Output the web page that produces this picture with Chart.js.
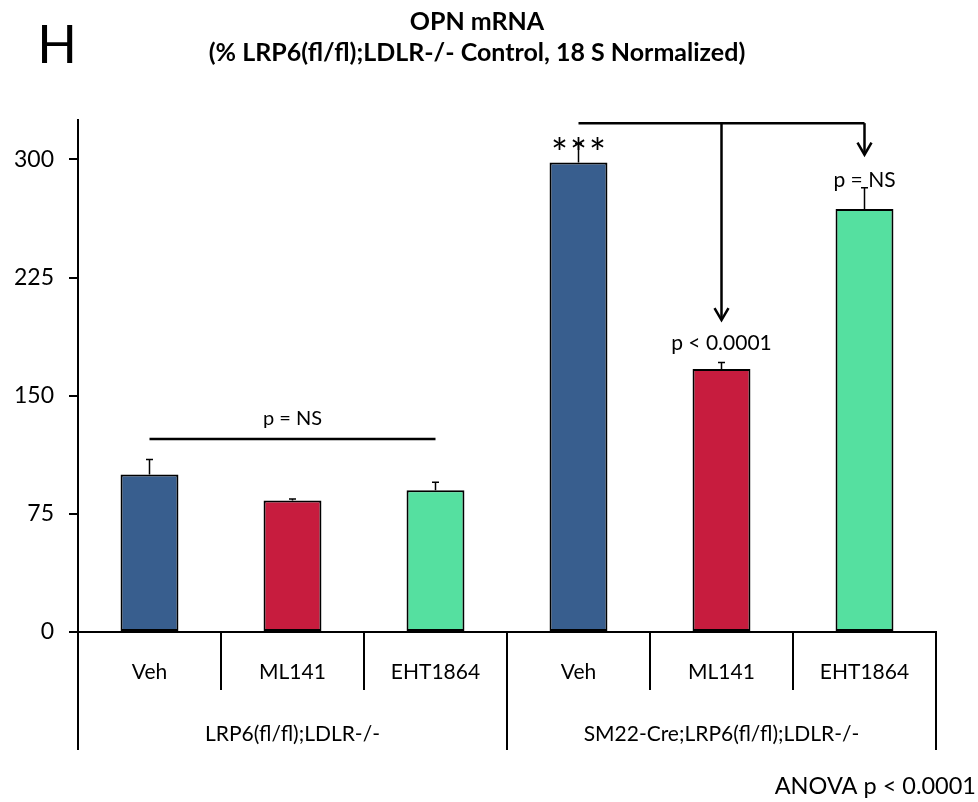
<!DOCTYPE html>
<html>
<head>
<meta charset="utf-8">
<script src="https://cdn.jsdelivr.net/npm/chart.js@4.4.1/dist/chart.umd.min.js"></script>
<style>
  html, body { margin: 0; padding: 0; background: #fff; }
  #wrap { width: 978px; height: 802px; position: relative; }
</style>
</head>
<body>
<div id="wrap"><canvas id="c" width="978" height="802"></canvas></div>
<script>
// OPN mRNA, % of LRP6(fl/fl);LDLR-/- control, 18S normalized
const treatments = ['Veh', 'ML141', 'EHT1864', 'Veh', 'ML141', 'EHT1864'];
const genotypes = ['LRP6(fl/fl);LDLR-/-', 'SM22-Cre;LRP6(fl/fl);LDLR-/-'];
const means = [100, 83.5, 90, 298, 167, 268.5];
const errUpper = [109.5, 84.5, 95, 310, 171, 282];
const barColors = ['#385e8e', '#c71c3e', '#55e0a0', '#385e8e', '#c71c3e', '#55e0a0'];
const yTicks = [0, 75, 150, 225, 300];

const FONT = 'Lato, "Open Sans", sans-serif';

const overlay = {
  id: 'overlay',
  afterDatasetsDraw(chart) {
    const ctx = chart.ctx;
    const y = chart.scales.y;
    const meta = chart.getDatasetMeta(0);
    ctx.save();
    ctx.strokeStyle = '#000';
    ctx.lineWidth = 1.5;
    // error bars (upper only)
    meta.data.forEach((bar, i) => {
      const top = y.getPixelForValue(errUpper[i]);
      const base = y.getPixelForValue(means[i]);
      ctx.beginPath();
      ctx.moveTo(bar.x, base);
      ctx.lineTo(bar.x, top);
      ctx.moveTo(bar.x - 3.5, top);
      ctx.lineTo(bar.x + 3.5, top);
      ctx.stroke();
    });
    ctx.restore();
  },
  afterDraw(chart) {
    const ctx = chart.ctx;
    const x = chart.scales.x, y = chart.scales.y;
    const area = chart.chartArea;
    const cx = i => x.getPixelForValue(i);
    ctx.save();
    ctx.fillStyle = '#000';
    ctx.strokeStyle = '#000';

    // panel letter and title
    ctx.textAlign = 'center';
    ctx.textBaseline = 'middle';
    ctx.font = '52px ' + FONT;
    ctx.fillText('H', 57, 46);
    ctx.font = 'bold 25px ' + FONT;
    ctx.fillText('OPN mRNA', 477, 22);
    ctx.fillText('(% LRP6(fl/fl);LDLR-/- Control, 18 S Normalized)', 477, 53);

    // multi-level category axis
    const bottom = area.bottom;
    const step = x.getPixelForValue(1) - x.getPixelForValue(0);
    ctx.lineWidth = 2;
    for (let k = 0; k <= treatments.length; k++) {
      const px = cx(k) - step / 2;
      const long = (k % 3 === 0);
      ctx.beginPath();
      ctx.moveTo(px, bottom);
      ctx.lineTo(px, long ? bottom + 118 : bottom + 58);
      ctx.stroke();
    }
    ctx.font = '21px ' + FONT;
    treatments.forEach((t, i) => ctx.fillText(t, cx(i), bottom + 40));
    genotypes.forEach((g, j) => ctx.fillText(g, (cx(3 * j) + cx(3 * j + 2)) / 2, bottom + 102));

    ctx.textAlign = 'right';
    ctx.font = '23.5px ' + FONT;
    ctx.fillText('ANOVA p < 0.0001', 976, 786);

    // control group comparison
    ctx.textAlign = 'center';
    ctx.lineWidth = 2.5;
    const yNS = y.getPixelForValue(122.5);
    ctx.beginPath();
    ctx.moveTo(cx(0), yNS);
    ctx.lineTo(cx(2), yNS);
    ctx.stroke();
    ctx.font = '20px ' + FONT;
    ctx.fillText('p = NS', (cx(0) + cx(2)) / 2, yNS - 20);

    // significance vs control
    ctx.font = '40px ' + FONT;
    ctx.textBaseline = 'alphabetic';
    const yStar = y.getPixelForValue(310) + 24;
    [-19, 0, 19].forEach(dx => ctx.fillText('*', cx(3) + dx, yStar));
    ctx.textBaseline = 'middle';

    // bracket from SM22-Cre Veh to treated groups
    ctx.lineWidth = 2.5;
    const yBr = y.getPixelForValue(323);
    ctx.beginPath();
    ctx.moveTo(cx(3), yBr);
    ctx.lineTo(cx(5), yBr);
    ctx.stroke();
    const arrow = (px, yEnd) => {
      ctx.beginPath();
      ctx.moveTo(px, yBr);
      ctx.lineTo(px, yEnd);
      ctx.stroke();
      ctx.beginPath();
      ctx.moveTo(px - 7, yEnd - 12);
      ctx.lineTo(px, yEnd);
      ctx.lineTo(px + 7, yEnd - 12);
      ctx.stroke();
    };
    arrow(cx(4), y.getPixelForValue(198));
    arrow(cx(5), y.getPixelForValue(303));
    ctx.font = '21px ' + FONT;
    ctx.fillText('p < 0.0001', cx(4), y.getPixelForValue(183));
    ctx.fillText('p = NS', cx(5), y.getPixelForValue(287));
    ctx.restore();
  }
};

new Chart(document.getElementById('c'), {
  type: 'bar',
  data: {
    labels: treatments,
    datasets: [{
      data: means,
      backgroundColor: barColors,
      borderColor: '#000',
      borderWidth: 2,
      borderSkipped: false,
      categoryPercentage: 1,
      barPercentage: 0.405
    }]
  },
  options: {
    responsive: false,
    animation: false,
    devicePixelRatio: 1,
    layout: { padding: { left: 0, right: 42, top: 120, bottom: 0 } },
    plugins: { legend: { display: false }, tooltip: { enabled: false }, title: { display: false } },
    scales: {
      x: {
        grid: { display: false },
        ticks: { display: false },
        border: { display: true, color: '#000', width: 2 },
        afterFit(s) { s.height = 170; }
      },
      y: {
        min: 0,
        max: 325,
        afterBuildTicks(s) { s.ticks = yTicks.map(v => ({ value: v })); },
        ticks: { color: '#000', font: { family: FONT, size: 23 }, padding: 15 },
        grid: { drawOnChartArea: false, drawTicks: true, tickLength: 9, color: '#000', lineWidth: 2 },
        border: { display: true, color: '#000', width: 2 },
        afterFit(s) { s.width = 78; }
      }
    }
  },
  plugins: [overlay]
});
</script>
</body>
</html>
